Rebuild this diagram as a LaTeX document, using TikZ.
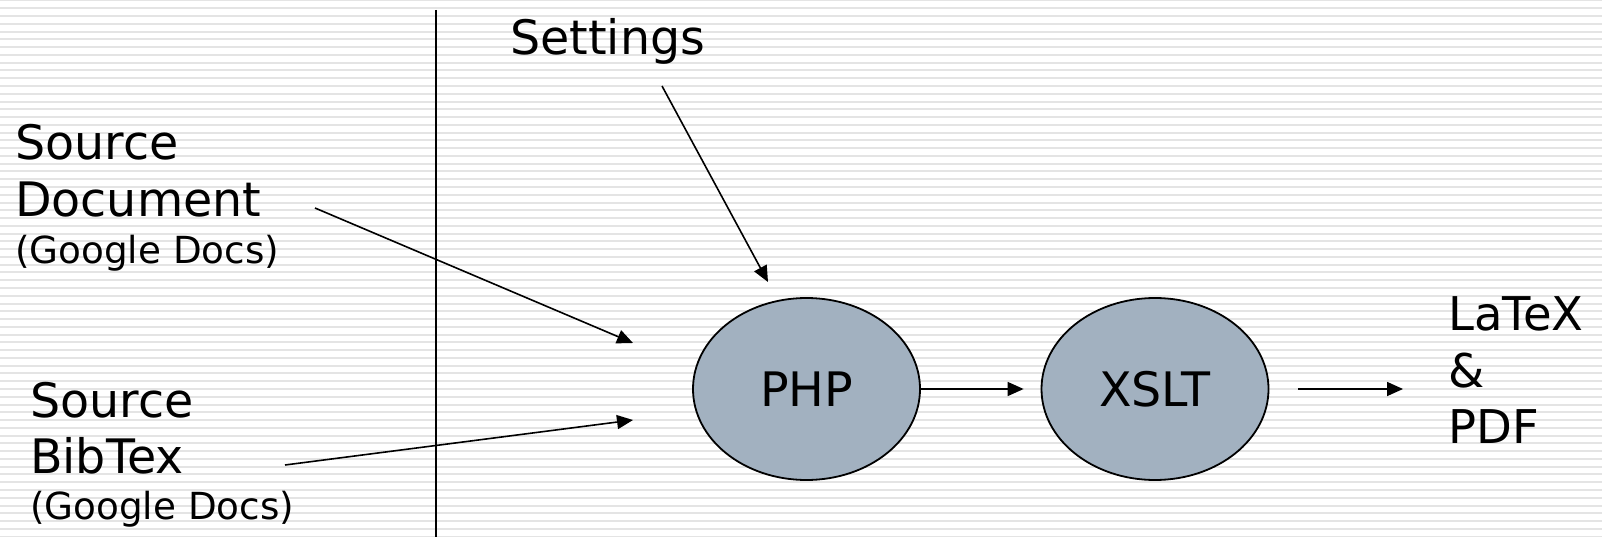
\documentclass[tikz,border=0pt]{standalone}
\usepackage{fontspec}
\setmainfont{DejaVu Sans}
\usetikzlibrary{shapes.geometric,arrows.meta}
\definecolor{stripecol}{RGB}{228,228,228}
\definecolor{ellfill}{RGB}{162,177,192}
\tikzset{
  big/.style={font=\fontsize{47.5}{57}\selectfont, inner sep=0pt, anchor=base west},
  small/.style={font=\fontsize{37.3}{45}\selectfont, inner sep=0pt, anchor=base west},
  outtxt/.style={font=\fontsize{46.5}{56}\selectfont, inner sep=0pt, anchor=base west},
  ell/.style={ellipse, draw=black, line width=1.8pt, fill=ellfill, minimum width=227pt, minimum height=182pt, inner sep=0pt, font=\fontsize{47.5}{57}\selectfont},
  arr/.style={line width=1.6pt, -{Triangle[length=16pt,width=14pt]}},
}
\begin{document}
\begin{tikzpicture}[x=1pt,y=-1pt]
\useasboundingbox (0,0) rectangle (1602,537);
\fill[white] (0,0) rectangle (1602,537);
\foreach \i in {0,...,69} {
  \fill[stripecol] (0,{\i*7.77-0.5}) rectangle (1602,{\i*7.77+1.5});
}
% divider
\coordinate (divtop) at (436,10);
\coordinate (divbot) at (436,537);
\draw[line width=1.5pt] (divtop) -- (divbot);
% texts
\node[big] (settings) at (510,55) {Settings};
\node[big] (src1) at (15,160) {Source};
\node[big] (doc) at (15,217) {Document};
\node[small] (gd1) at (15,263) {(Google Docs)};
\node[big] (src2) at (30,417) {Source};
\node[big] (bib) at (30,473) {BibTex};
\node[small] (gd2) at (30,519) {(Google Docs)};
\node[outtxt] (latex) at (1448,330) {LaTeX};
\node[outtxt] (amp) at (1448,387) {\&};
\node[outtxt] (pdf) at (1448,443) {PDF};
% ellipses
\node[ell] (php) at (806.5,389) {PHP};
\node[ell] (xslt) at (1155,389) {XSLT};
% arrow endpoints
\coordinate (setstart) at (662,86);
\coordinate (settip) at (768,282);
\coordinate (docstart) at (315,208);
\coordinate (doctip) at (633,343);
\coordinate (bibstart) at (285,465);
\coordinate (bibtip) at (633,420);
\coordinate (outstart) at (1298,389);
\coordinate (outtip) at (1403,389);
\draw[arr] (setstart) -- (settip);
\draw[arr] (docstart) -- (doctip);
\draw[arr] (bibstart) -- (bibtip);
\draw[arr, shorten >=17pt] (php.east) -- (xslt.west);
\draw[arr] (outstart) -- (outtip);
\end{tikzpicture}
\end{document}
